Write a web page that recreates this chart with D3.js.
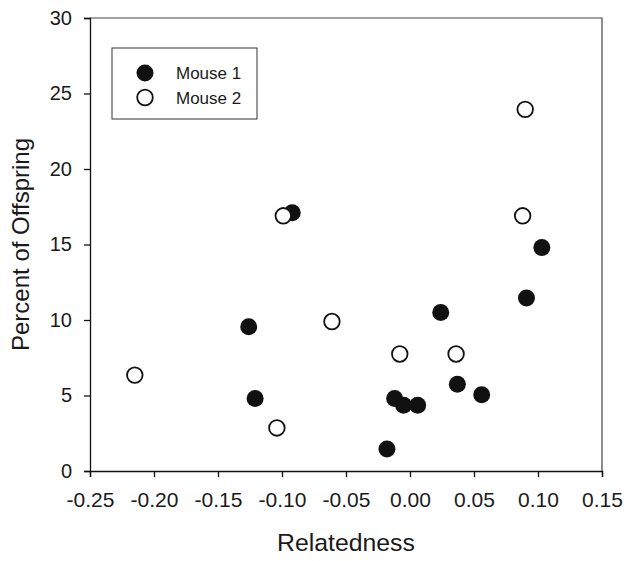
<!DOCTYPE html>
<html>
<head>
<meta charset="utf-8">
<script src="https://cdn.jsdelivr.net/npm/d3@7"></script>
<style>
  body { margin: 0; background: #fff; }
  svg text { font-family: "Liberation Sans", Arial, sans-serif; fill: #1a1a1a; }
</style>
</head>
<body>
<svg width="629" height="561"></svg>
<script>
// values
var mouse1X = [-0.092, -0.126, -0.121, -0.018, -0.012, -0.005, 0.006, 0.024, 0.037, 0.056, 0.091, 0.103];
var mouse1Y = [17.1, 9.55, 4.8, 1.45, 4.8, 4.35, 4.35, 10.5, 5.75, 5.05, 11.45, 14.8];
var mouse2X = [-0.215, -0.104, -0.099, -0.061, -0.008, 0.036, 0.088, 0.090];
var mouse2Y = [6.35, 2.85, 16.9, 9.9, 7.75, 7.75, 16.9, 23.95];
var xTicks = [-0.25, -0.20, -0.15, -0.10, -0.05, 0.00, 0.05, 0.10, 0.15];
var yTicks = [0, 5, 10, 15, 20, 25, 30];
var seriesNames = ["Mouse 1", "Mouse 2"];

var svg = d3.select("svg"),
    margin = {top: 18, right: 27, bottom: 90, left: 90},
    width = +svg.attr("width") - margin.left - margin.right,
    height = +svg.attr("height") - margin.top - margin.bottom,
    g = svg.append("g").attr("transform", "translate(" + margin.left + "," + margin.top + ")");

var x = d3.scaleLinear().domain([-0.25, 0.15]).range([0, width]);
var y = d3.scaleLinear().domain([0, 30]).range([height, 0]);

// frame on top and right
g.append("path")
    .attr("d", "M0,0H" + width + "V" + height)
    .attr("fill", "none")
    .attr("stroke", "#444")
    .attr("stroke-width", 1.2);

var xAxis = g.append("g")
    .attr("transform", "translate(0," + height + ")")
    .call(d3.axisBottom(x).tickValues(xTicks).tickFormat(d3.format(".2f")).tickSizeOuter(0).tickSize(6).tickPadding(15));

var yAxis = g.append("g")
    .call(d3.axisLeft(y).tickValues(yTicks).tickSizeOuter(0).tickSize(6).tickPadding(12));

[xAxis, yAxis].forEach(function(a) {
    a.selectAll("path, line").attr("stroke", "#111").attr("stroke-width", 1.3);
    a.selectAll("text").attr("fill", "#1a1a1a")
        .style("font-family", "'Liberation Sans', Arial, sans-serif");
});
xAxis.selectAll("text").attr("font-size", 21)
    .text(function(d) { return d3.format(".2f")(d).replace("−", "-"); });
yAxis.selectAll("text").attr("font-size", 20);

svg.append("text")
    .attr("x", margin.left + width / 2)
    .attr("y", 551)
    .attr("text-anchor", "middle")
    .attr("font-size", 24.8)
    .text("Relatedness");

svg.append("text")
    .attr("transform", "translate(29," + (margin.top + height / 2) + ") rotate(-90)")
    .attr("text-anchor", "middle")
    .attr("font-size", 24)
    .text("Percent of Offspring");

// points
var m1 = mouse1X.map(function(d, i) { return {x: d, y: mouse1Y[i]}; });
var m2 = mouse2X.map(function(d, i) { return {x: d, y: mouse2Y[i]}; });

g.selectAll(".m1").data(m1).enter().append("circle")
    .attr("class", "m1")
    .attr("cx", function(d) { return x(d.x); })
    .attr("cy", function(d) { return y(d.y); })
    .attr("r", 8.5)
    .attr("fill", "#111");

g.selectAll(".m2").data(m2).enter().append("circle")
    .attr("class", "m2")
    .attr("cx", function(d) { return x(d.x); })
    .attr("cy", function(d) { return y(d.y); })
    .attr("r", 7.8)
    .attr("fill", "#fff")
    .attr("stroke", "#111")
    .attr("stroke-width", 1.8);

// legend
var legend = svg.append("g").attr("transform", "translate(112,48)");
legend.append("rect")
    .attr("width", 145).attr("height", 71)
    .attr("fill", "#fff").attr("stroke", "#333").attr("stroke-width", 1);

seriesNames.forEach(function(name, i) {
    var row = legend.append("g").attr("transform", "translate(33," + (25 + i * 24.5) + ")");
    row.append("circle")
        .attr("r", i === 0 ? 8.5 : 7.8)
        .attr("fill", i === 0 ? "#111" : "#fff")
        .attr("stroke", i === 0 ? "none" : "#111")
        .attr("stroke-width", 1.8);
    row.append("text")
        .attr("x", 31).attr("y", 6)
        .attr("font-size", 17)
        .text(name);
});
</script>
</body>
</html>
